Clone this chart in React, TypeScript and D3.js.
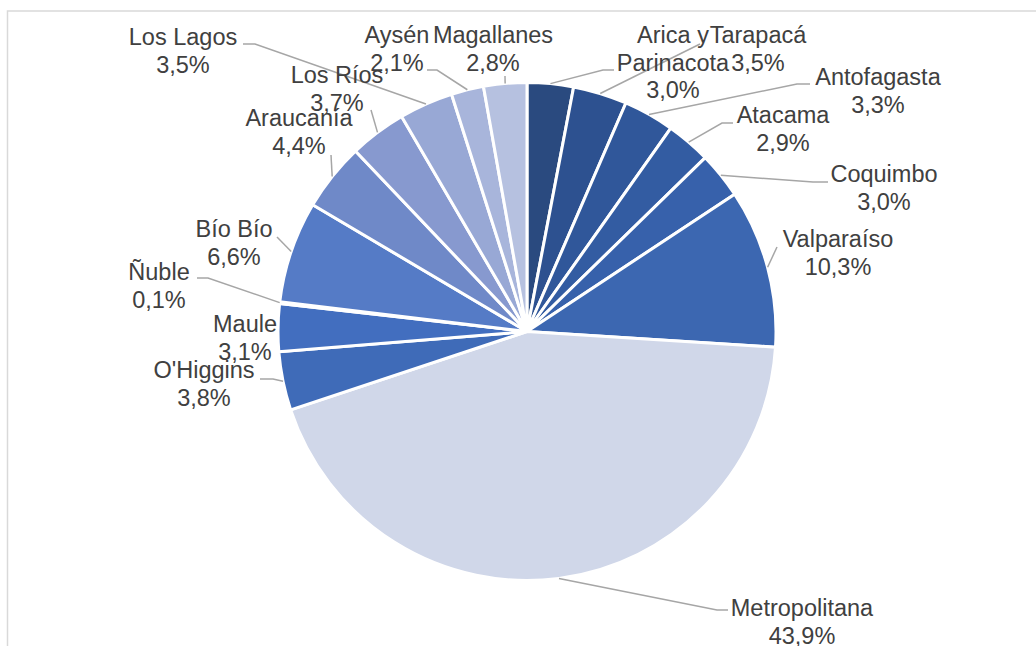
import React from "react";
import * as d3 from "d3";

const regions = [
  "Arica y Parinacota", "Tarapacá", "Antofagasta", "Atacama", "Coquimbo", "Valparaíso",
  "Metropolitana", "O'Higgins", "Maule", "Ñuble", "Bío Bío", "Araucanía",
  "Los Ríos", "Los Lagos", "Aysén", "Magallanes",
];
const nameLines = [
  ["Arica y", "Parinacota"], ["Tarapacá"], ["Antofagasta"], ["Atacama"], ["Coquimbo"], ["Valparaíso"],
  ["Metropolitana"], ["O'Higgins"], ["Maule"], ["Ñuble"], ["Bío Bío"], ["Araucanía"],
  ["Los Ríos"], ["Los Lagos"], ["Aysén"], ["Magallanes"],
];
const shares = [3.0, 3.5, 3.3, 2.9, 3.0, 10.3, 43.9, 3.8, 3.1, 0.1, 6.6, 4.4, 3.7, 3.5, 2.1, 2.8];
const colors = [
  "#2a4a7f", "#2d5190", "#30579a", "#335ca2", "#3761ab", "#3c67b1",
  "#d0d7e9", "#3f6bb8", "#426ebf", "#4a75c4", "#557bc6", "#6f89c8",
  "#8799cf", "#98a8d5", "#a8b5db", "#b6c1e0",
];

// label layout: text centre x, first baseline y, leader elbow points (after arc start)
const labelLayout: { x: number; y: number; leader: number[][] | null }[] = [
  { x: 673, y: 43, leader: [[603, 70], [614, 70]] },
  { x: 758, y: 43, leader: [[700, 44]] },
  { x: 878, y: 85, leader: [[797, 84], [810, 84]] },
  { x: 783, y: 123, leader: [[722, 123], [733, 123]] },
  { x: 884, y: 182, leader: [[813, 182], [828, 182]] },
  { x: 838, y: 247, leader: [[777, 247]] },
  { x: 802, y: 616, leader: [[717, 610], [728, 610]] },
  { x: 204, y: 378, leader: [[273, 379], [260, 379]] },
  { x: 245, y: 332, leader: null },
  { x: 159, y: 280, leader: [[208, 278], [197, 278]] },
  { x: 234, y: 237, leader: [[277, 237]] },
  { x: 299, y: 126, leader: [[331, 155]] },
  { x: 337, y: 83, leader: [[371, 110]] },
  { x: 183, y: 45, leader: [[255, 44], [243, 44]] },
  { x: 397, y: 43, leader: [[437, 70], [427, 70]] },
  { x: 493, y: 43, leader: [[505, 76]] },
];

const W = 1036, H = 646;
const cx = 527, cy = 331.5, R = 249;
const fmt = (v: number) => d3.format(".1f")(v).replace(".", ",") + "%";

export default function App() {
  const pie = d3.pie<number>().sort(null).value((d) => d);
  const arcs = pie(shares);
  const arcGen = d3.arc<d3.PieArcDatum<number>>().innerRadius(0).outerRadius(R);
  const edgeArc = d3.arc<d3.PieArcDatum<number>>().innerRadius(R).outerRadius(R);
  const line = d3.line();
  const fontSize = 23.5;
  const lh = 27.5;

  return (
    <svg width={W} height={H} style={{ position: "absolute", left: 0, top: 0, background: "#fff" }}
      fontFamily="'Liberation Sans', Arial, sans-serif">
      <rect x={7.5} y={11} width={1200} height={800} fill="none" stroke="#d9d9d9" strokeWidth={1.5} />
      <g transform={`translate(${cx},${cy})`}>
        {arcs.map((a, i) => (
          <path key={regions[i]} d={arcGen(a) || ""} fill={colors[i]} stroke="#fff" strokeWidth={3} strokeLinejoin="round" />
        ))}
      </g>
      {arcs.map((a, i) => {
        const L = labelLayout[i];
        if (!L.leader) return null;
        const [ex, ey] = edgeArc.centroid(a);
        const pts: [number, number][] = [[cx + ex, cy + ey], ...L.leader.map((p) => [p[0], p[1]] as [number, number])];
        return <path key={"l" + i} d={line(pts) || ""} fill="none" stroke="#a6a6a6" strokeWidth={1.5} />;
      })}
      {arcs.map((a, i) => {
        const L = labelLayout[i];
        const lines = [...nameLines[i], fmt(shares[i])];
        return (
          <text key={"t" + i} x={L.x} y={L.y} textAnchor="middle" fontSize={fontSize} fill="#404040">
            {lines.map((s, j) => (
              <tspan key={j} x={L.x} y={L.y + j * lh}>{s}</tspan>
            ))}
          </text>
        );
      })}
    </svg>
  );
}
